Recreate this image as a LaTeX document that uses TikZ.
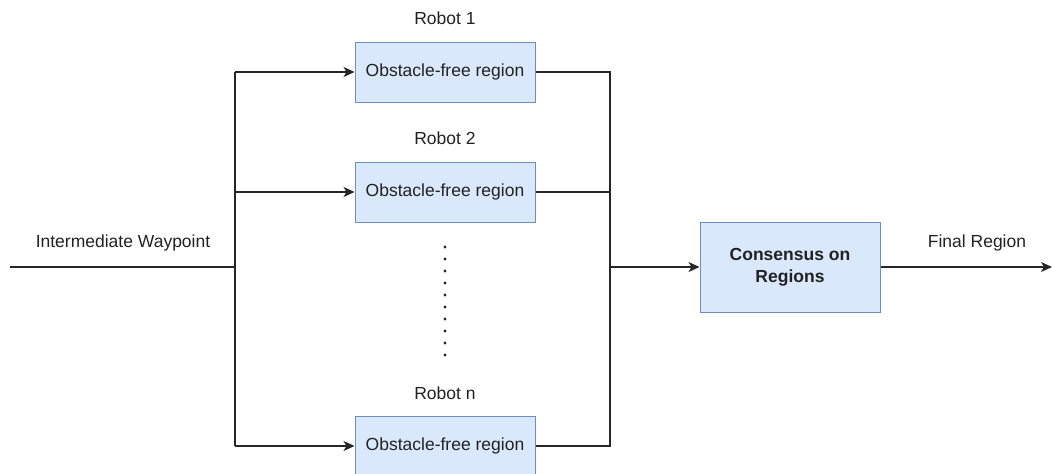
\documentclass[tikz,border=0pt]{standalone}
\usepackage{fontspec}
\setmainfont{Liberation Sans}
\usetikzlibrary{arrows.meta}
\definecolor{boxfill}{HTML}{DAE8FC}
\definecolor{boxline}{HTML}{6C8EBF}
\definecolor{txt}{HTML}{222222}
\tikzset{
  regionbox/.style={draw=boxline, fill=boxfill, line width=1pt, minimum width=180pt, minimum height=60pt, inner sep=0pt, text=txt, font=\fontsize{17.5}{21}\selectfont},
  consbox/.style={regionbox, minimum height=90pt, align=center, font=\fontsize{17.5}{22}\selectfont\bfseries},
  wire/.style={line width=1.4pt, draw=black!85},
  arrowwire/.style={wire, -{Stealth[length=11pt,width=10pt,inset=3pt]}},
  lbl/.style={text=txt, font=\fontsize{17.5}{21}\selectfont, inner sep=0pt},
}
\begin{document}
\begin{tikzpicture}[x=1pt,y=-1pt]
\useasboundingbox (0,0) rectangle (1053,474);
% robot regions
\node[regionbox] (r1) at (445,72) {Obstacle-free region};
\node[regionbox] (r2) at (445,192) {Obstacle-free region};
\node[regionbox] (rn) at (445,446) {Obstacle-free region};
\node[lbl] (l1) at (445,18) {Robot 1};
\node[lbl] (l2) at (445,138) {Robot 2};
\node[lbl] (ln) at (445,393) {Robot n};
% consensus
\node[consbox] (c) at (790,267) {Consensus on\\Regions};
% input
\coordinate (in) at (10,267);
\coordinate (split) at (235,267);
\coordinate (merge) at (610,267);
\coordinate (out) at (1052,267);
\node[lbl] (inlbl) at (123,243) {Intermediate Waypoint};
\node[lbl] (outlbl) at (977,243) {Final Region};
\draw[wire] (in) -- (split);
\draw[wire] (split |- r1.west) -- (split |- rn.west);
\draw[arrowwire] (split |- r1.west) -- (r1.west);
\draw[arrowwire] (split |- r2.west) -- (r2.west);
\draw[arrowwire] (split |- rn.west) -- (rn.west);
% outputs to bus
\draw[wire] (r1.east) -- (merge |- r1.east) -- (merge |- rn.east) -- (rn.east);
\draw[wire] (r2.east) -- (merge |- r2.east);
\draw[arrowwire] (merge) -- (c.west);
\draw[arrowwire] (c.east) -- (out);
% ellipsis dots
\foreach \k in {0,...,9}
  \fill[black!85] (445,247+12*\k) circle (1.6pt);
\end{tikzpicture}
\end{document}
